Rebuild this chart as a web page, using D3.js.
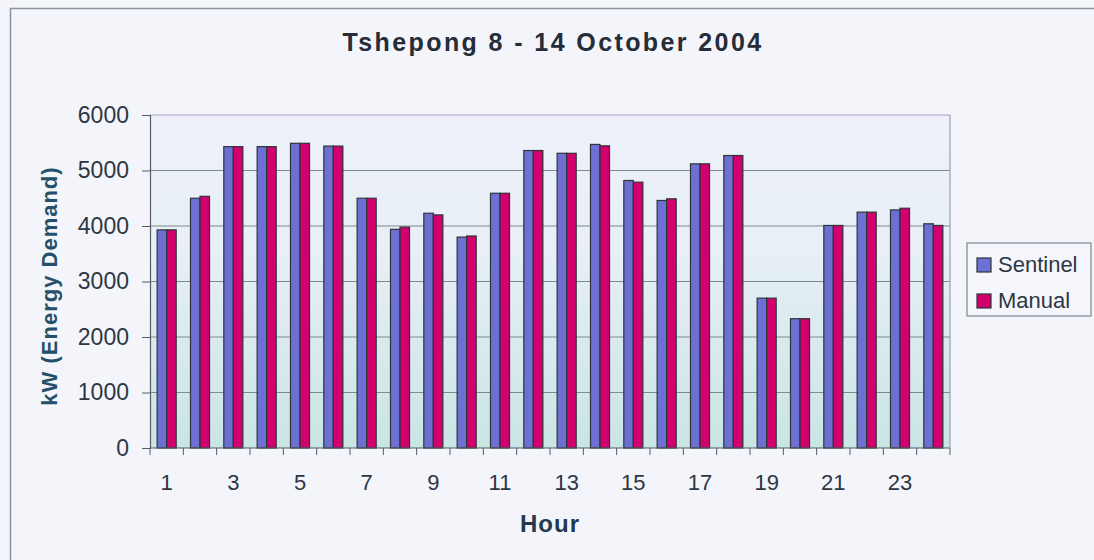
<!DOCTYPE html>
<html>
<head>
<meta charset="utf-8">
<script src="https://cdn.jsdelivr.net/npm/d3@7"></script>
<style>
  body { margin: 0; background: #fff; }
  svg text { font-family: "Liberation Sans", Arial, sans-serif; }
</style>
</head>
<body>
<div id="chart"></div>
<script>
// data
var hours = d3.range(1, 25);
var sentinel = [3930, 4500, 5430, 5430, 5490, 5440, 4500, 3940, 4230, 3800, 4590, 5360,
                5310, 5470, 4820, 4460, 5120, 5270, 2700, 2330, 4010, 4250, 4290, 4040];
var manual   = [3930, 4535, 5430, 5430, 5490, 5440, 4500, 3980, 4200, 3820, 4590, 5360,
                5310, 5445, 4790, 4490, 5120, 5270, 2700, 2330, 4010, 4250, 4320, 4010];
var seriesNames = ["Sentinel", "Manual"];
var seriesColors = ["#6c70d2", "#d2006e"];
var yTicks = [0, 1000, 2000, 3000, 4000, 5000, 6000];

var svgWidth = 1094, svgHeight = 560;
var margin = { top: 115, right: 144, bottom: 112, left: 150 };
var width = svgWidth - margin.left - margin.right;
var height = svgHeight - margin.top - margin.bottom;

var svg = d3.select("#chart").append("svg")
  .attr("width", svgWidth)
  .attr("height", svgHeight);

var defs = svg.append("defs");
var grad = defs.append("linearGradient")
  .attr("id", "plotBg").attr("x1", 0).attr("y1", 0).attr("x2", 0).attr("y2", 1);
grad.append("stop").attr("offset", "0%").attr("stop-color", "#eef1f9");
grad.append("stop").attr("offset", "40%").attr("stop-color", "#e8eff7");
grad.append("stop").attr("offset", "100%").attr("stop-color", "#c9e5e4");

// outer chart area
svg.append("rect")
  .attr("x", 0).attr("y", 0).attr("width", svgWidth).attr("height", svgHeight)
  .attr("fill", "#f3f5fa");
svg.append("rect")
  .attr("x", 10.5).attr("y", 8.5).attr("width", svgWidth - 5).attr("height", svgHeight + 5)
  .attr("fill", "none").attr("stroke", "#8a929c").attr("stroke-width", 1.5);

var chartGroup = svg.append("g")
  .attr("transform", `translate(${margin.left}, ${margin.top})`);

chartGroup.append("rect")
  .attr("width", width).attr("height", height)
  .attr("fill", "url(#plotBg)");

// scales
var x0 = d3.scaleBand().domain(hours).range([0, width]).paddingInner(0).paddingOuter(0);
var bandPad = 0.75 / 3.5;
var x1 = d3.scaleBand().domain(seriesNames)
  .range([x0.bandwidth() * bandPad, x0.bandwidth() * (1 - bandPad)]);
var y = d3.scaleLinear().domain([0, 6000]).range([height, 0]);

// gridlines
chartGroup.selectAll(".grid").data(yTicks.slice(1, -1)).enter().append("line")
  .attr("x1", 0).attr("x2", width)
  .attr("y1", d => y(d)).attr("y2", d => y(d))
  .attr("stroke", "#7f8c8c").attr("stroke-width", 1.2);

// plot border: top and right
chartGroup.append("line")
  .attr("x1", 0).attr("x2", width).attr("y1", 0).attr("y2", 0)
  .attr("stroke", "#b39cc8").attr("stroke-width", 1.2);
chartGroup.append("line")
  .attr("x1", width).attr("x2", width).attr("y1", 0).attr("y2", height)
  .attr("stroke", "#9aa0aa").attr("stroke-width", 1.2);

// bars
var groups = chartGroup.selectAll(".hour").data(hours).enter().append("g")
  .attr("transform", d => `translate(${x0(d)},0)`);
groups.selectAll("rect")
  .data((d, i) => [
    { name: "Sentinel", value: sentinel[i], color: seriesColors[0] },
    { name: "Manual", value: manual[i], color: seriesColors[1] }
  ])
  .enter().append("rect")
  .attr("x", d => x1(d.name))
  .attr("y", d => y(d.value))
  .attr("width", x1.bandwidth())
  .attr("height", d => height - y(d.value))
  .attr("fill", d => d.color)
  .attr("stroke", "#2f3438").attr("stroke-width", 1.2);

// axes
var leftAxis = d3.axisLeft(y).tickValues(yTicks).tickFormat(d3.format("d"))
  .tickSize(8).tickPadding(13);
var yAxisG = chartGroup.append("g").call(leftAxis);
yAxisG.select(".domain").attr("stroke", "#555c66").attr("stroke-width", 1.2);
yAxisG.selectAll(".tick line").attr("stroke", "#555c66");
yAxisG.selectAll("text")
  .attr("font-size", 23).attr("fill", "#2e3644")
  .style("font-family", "'Liberation Sans', Arial, sans-serif");

var xAxisG = chartGroup.append("g").attr("transform", `translate(0, ${height})`);
xAxisG.append("line")
  .attr("x1", 0).attr("x2", width)
  .attr("stroke", "#555c66").attr("stroke-width", 1.2);
xAxisG.selectAll(".xt").data(hours.concat([25])).enter().append("line")
  .attr("x1", d => d <= 24 ? x0(d) : width)
  .attr("x2", d => d <= 24 ? x0(d) : width)
  .attr("y1", 0).attr("y2", 7)
  .attr("stroke", "#555c66");
xAxisG.selectAll(".xl").data(hours.filter(h => h % 2 === 1)).enter().append("text")
  .attr("x", d => x0(d) + x0.bandwidth() / 2)
  .attr("y", 42)
  .attr("text-anchor", "middle")
  .attr("font-size", 22).attr("fill", "#2e3644")
  .text(d => d);

// titles
svg.append("text")
  .attr("x", 553).attr("y", 51)
  .attr("text-anchor", "middle")
  .attr("font-size", 25).attr("font-weight", "bold").attr("fill", "#262c38")
  .attr("letter-spacing", 2.4)
  .text("Tshepong 8 - 14 October 2004");

svg.append("text")
  .attr("x", 550).attr("y", 532)
  .attr("text-anchor", "middle")
  .attr("font-size", 24).attr("font-weight", "bold").attr("fill", "#24384e")
  .attr("letter-spacing", 1)
  .text("Hour");

svg.append("text")
  .attr("transform", `translate(57, 286) rotate(-90)`)
  .attr("text-anchor", "middle")
  .attr("font-size", 22).attr("font-weight", "bold").attr("fill", "#24506a")
  .attr("letter-spacing", 1)
  .text("kW (Energy Demand)");

// legend
var legend = svg.append("g").attr("transform", "translate(967, 243)");
legend.append("rect")
  .attr("width", 124).attr("height", 73)
  .attr("fill", "#f4f6fb").attr("stroke", "#7f8790").attr("stroke-width", 1.2);
var items = legend.selectAll(".item").data(seriesNames).enter().append("g")
  .attr("transform", (d, i) => `translate(10, ${22 + i * 36})`);
items.append("rect")
  .attr("x", 0).attr("y", -7).attr("width", 14).attr("height", 14)
  .attr("fill", (d, i) => seriesColors[i])
  .attr("stroke", "#2f3438").attr("stroke-width", 1.2);
items.append("text")
  .attr("x", 21).attr("y", 7)
  .attr("font-size", 22).attr("fill", "#2e3644")
  .text(d => d);
</script>
</body>
</html>
